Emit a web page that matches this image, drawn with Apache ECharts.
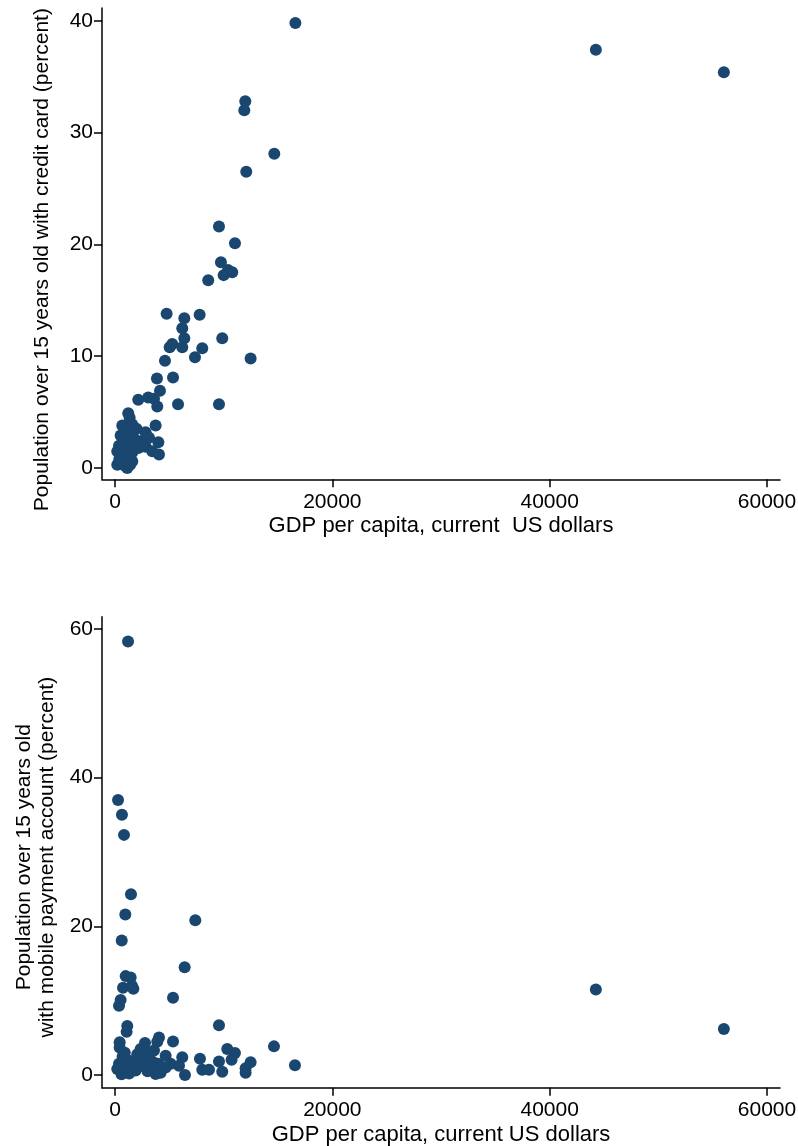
<!DOCTYPE html>
<html>
<head>
<meta charset="utf-8">
<script src="https://cdn.jsdelivr.net/npm/echarts@6/dist/echarts.min.js"></script>
<style>html,body{margin:0;padding:0;background:#fff;}#c{width:798px;height:1146px;}</style>
</head>
<body>
<div id="c"></div>
<script>
// Top panel: GDP per capita vs credit card ownership
const gdpTop = [16600,44250,56030,11990,11900,14660,12080,9570,11040,9750,10400,10790,10000,8580,4750,6380,7790,6190,6380,9870,5270,5030,6190,8030,7360,12480,4600,3860,5340,4140,2140,3060,3590,3890,5800,9570,1220,1350,670,1590,3740,2000,2820,520,1440,3130,3990,2360,370,1290,2820,3430,4050,210,1590,830,210,1130,670,1590,2200,1000,1800,700,1200,1700,900,400,1400];
const cardTop = [39.8,37.4,35.4,32.8,32.0,28.1,26.5,21.6,20.1,18.4,17.7,17.5,17.25,16.8,13.8,13.4,13.7,12.5,11.6,11.6,11.1,10.8,10.8,10.7,9.9,9.8,9.6,8.0,8.1,6.9,6.1,6.3,6.2,5.5,5.7,5.7,4.9,4.5,3.8,3.9,3.8,3.5,3.2,2.9,2.9,2.7,2.3,2.4,2.0,2.1,1.9,1.5,1.2,1.5,1.4,0.9,0.3,0.0,0.5,0.6,1.8,1.2,2.6,2.2,3.2,3.6,0.2,0.8,0.3];
// Bottom panel: GDP per capita vs mobile payment account
const gdpBottom = [1200,280,640,830,1470,950,7390,620,6410,980,1440,740,1690,1560,5340,520,370,44250,9570,1130,1070,56030,4050,3890,5340,430,430,2760,14630,10330,11040,2360,2050,2970,4660,6190,7820,10730,12480,9570,3430,1290,370,5120,5890,12020,8030,8650,9870,6440,3740,1900,830,210,1500,3590,4660,12020,16560,3590,3130,700,1000,1300,600,2500,2200,1800,900,3000,4200,4000];
const mobileBottom = [58.3,37.0,35.0,32.3,24.3,21.6,20.8,18.1,14.5,13.3,13.1,11.75,11.6,12.0,10.4,10.1,9.3,11.5,6.7,6.6,5.8,6.2,5.05,4.46,4.5,4.4,3.7,4.3,3.85,3.5,2.95,3.5,2.8,2.95,2.6,2.4,2.2,2.05,1.7,1.8,1.8,1.9,1.5,1.5,1.25,0.9,0.7,0.7,0.45,0.0,0.13,0.6,0.4,0.8,0.6,1.0,1.0,0.3,1.3,3.3,2.0,2.5,1.0,0.2,0.1,1.2,2.0,1.4,3.0,0.5,0.3,1.5];
const xTicks = [0,20000,40000,60000];
const yTicksTop = [0,10,20,30,40];
const yTicksBottom = [0,20,40,60];
const xTitleTop = 'GDP per capita, current  US dollars';
const xTitleBottom = 'GDP per capita, current US dollars';
const yTitleTop = 'Population over 15 years old with credit card (percent)';
const yTitleBottom = 'Population over 15 years old\nwith mobile payment account (percent)';

const FONT = 'Liberation Sans';
const FS = 21;
const pts = (xs, ys) => xs.map((x, i) => [x, ys[i]]);
const plain = v => String(v);

function xAxisCfg(gridIndex, name) {
  return {
    type: 'value', gridIndex, min: -1196, max: 61196,
    name, nameLocation: 'middle', nameGap: 36,
    nameTextStyle: {fontFamily: FONT, fontSize: 22, color: '#000'},
    axisLine: {show: true, onZero: false, lineStyle: {color: '#000', width: 1.5}},
    axisTick: {show: true, length: 8, lineStyle: {color: '#000', width: 1.5}, customValues: xTicks},
    axisLabel: {fontFamily: FONT, fontSize: FS, color: '#000', margin: 12, customValues: xTicks, formatter: plain},
    splitLine: {show: false}
  };
}
function yAxisCfg(gridIndex, name, min, max, ticks, gap, pad) {
  return {
    type: 'value', gridIndex, min, max,
    name, nameLocation: 'middle', nameGap: gap,
    nameTextStyle: {fontFamily: FONT, fontSize: FS, color: '#000', lineHeight: 23, padding: pad},
    axisLine: {show: true, onZero: false, lineStyle: {color: '#000', width: 1.5}},
    axisTick: {show: true, length: 8, lineStyle: {color: '#000', width: 1.5}, customValues: ticks},
    axisLabel: {fontFamily: FONT, fontSize: FS, color: '#000', margin: 9, customValues: ticks, formatter: plain},
    splitLine: {show: false}
  };
}

const chart = echarts.init(document.getElementById('c'), null, {renderer: 'canvas'});
chart.setOption({
  animation: false,
  backgroundColor: '#fff',
  grid: [
    {left: 102, right: 18, top: 8, height: 471.3, outerBoundsMode: 'none', containLabel: false},
    {left: 102, right: 18, top: 616.7, height: 471, outerBoundsMode: 'none', containLabel: false}
  ],
  xAxis: [xAxisCfg(0, xTitleTop), xAxisCfg(1, xTitleBottom)],
  yAxis: [
    yAxisCfg(0, yTitleTop, -1.01, 41.14, yTicksTop, 48, [0, 32, 0, 0]),
    yAxisCfg(1, yTitleBottom, -1.71, 61.65, yTicksBottom, 42, [0, 10, 0, 0])
  ],
  series: [
    {type: 'scatter', xAxisIndex: 0, yAxisIndex: 0, data: pts(gdpTop, cardTop), symbolSize: 12,
     itemStyle: {color: '#1a476f', opacity: 1}},
    {type: 'scatter', xAxisIndex: 1, yAxisIndex: 1, data: pts(gdpBottom, mobileBottom), symbolSize: 12,
     itemStyle: {color: '#1a476f', opacity: 1}}
  ]
});
</script>
</body>
</html>
